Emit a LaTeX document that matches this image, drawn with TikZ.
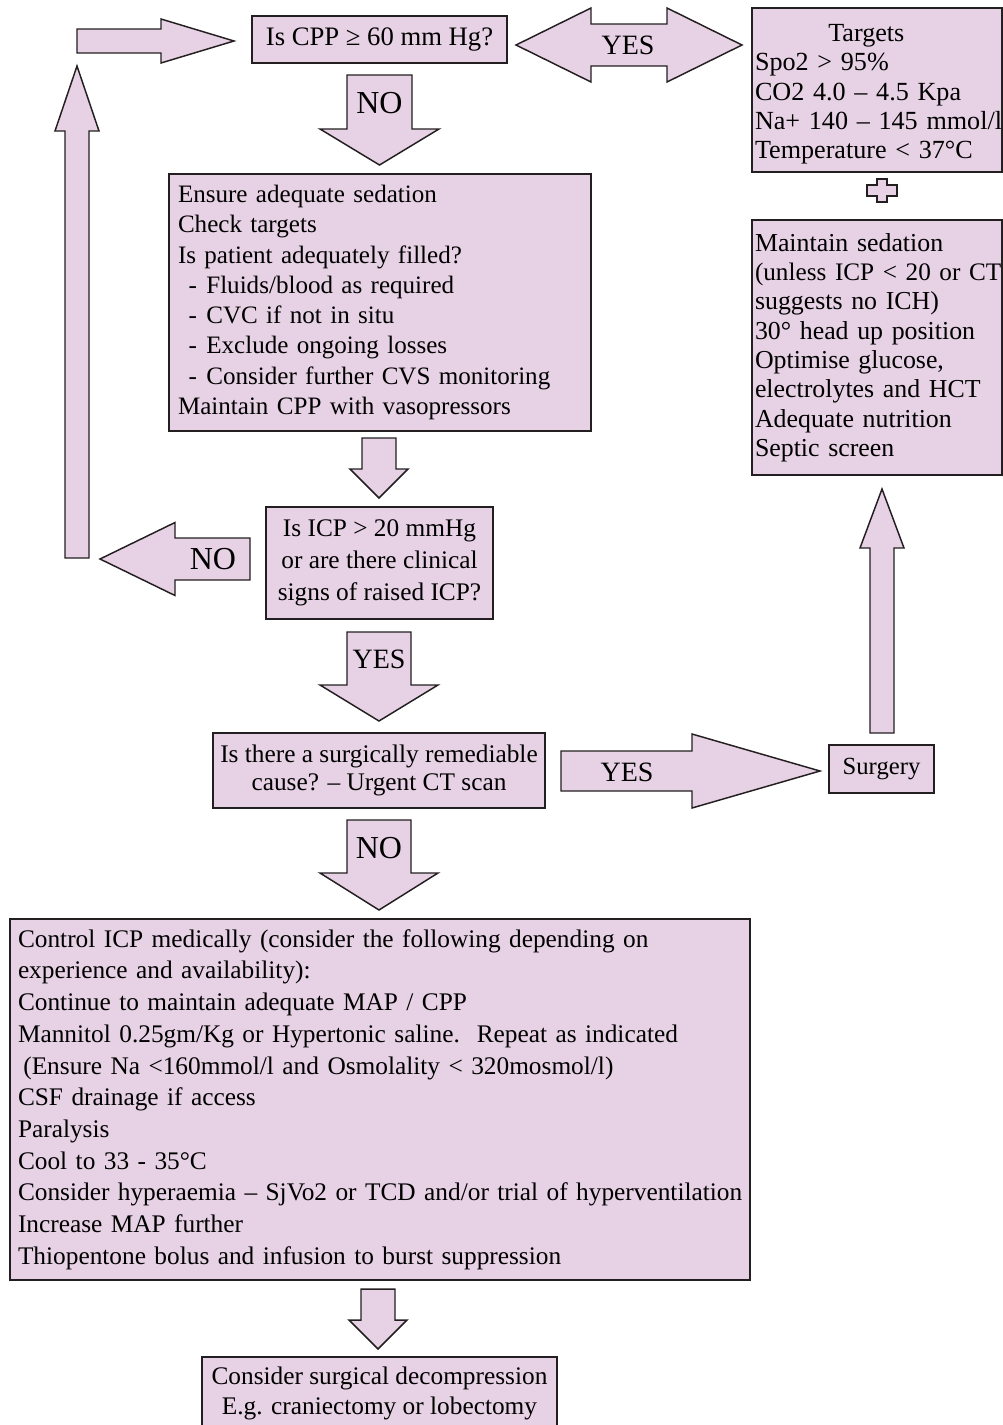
\documentclass[tikz,border=0pt]{standalone}
\usepackage{fontspec}
\setmainfont{Liberation Serif}
\definecolor{boxfill}{RGB}{231,209,228}
\definecolor{edge}{RGB}{35,31,32}
\newcommand\VBlk[6]{% cx, ytail, yhb, ytip, shaft half, head half
  \draw[blk] ({#1-#5},#2) -- ({#1+#5},#2) -- ({#1+#5},#3) -- ({#1+#6},#3) -- (#1,#4) -- ({#1-#6},#3) -- ({#1-#5},#3) -- cycle;}
\newcommand\HBlk[6]{% cy, xtail, xhb, xtip, shaft half, head half
  \draw[blk] (#2,{#1-#5}) -- (#3,{#1-#5}) -- (#3,{#1-#6}) -- (#4,#1) -- (#3,{#1+#6}) -- (#3,{#1+#5}) -- (#2,{#1+#5}) -- cycle;}
\begin{document}
\begin{tikzpicture}[x=0.75pt,y=-0.75pt,
  bx/.style={draw=edge, fill=boxfill, line width=1.1pt, inner ysep=0pt, outer sep=0pt, anchor=center, text=black},
  blk/.style={draw=edge, fill=boxfill, line width=1.1pt, line join=miter},
  lblyes/.style={font=\fontsize{21}{21}\selectfont, inner sep=0pt},
  lblno/.style={font=\fontsize{24}{24}\selectfont, inner sep=0pt}]
\useasboundingbox (0,0) rectangle (1003,1425);

% block arrows
\HBlk{41}{77}{161}{234}{12}{22}
\draw[blk] (516,45) -- (591,8) -- (591,24) -- (667,24) -- (667,8) -- (742,45) -- (667,82) -- (667,66) -- (591,66) -- (591,82) -- cycle;
\VBlk{379.5}{75}{129}{165}{32.5}{59.5}
\VBlk{379}{438}{469}{498}{17}{29}
\HBlk{559}{250}{175}{100}{21}{36.5}
\VBlk{77}{558}{131}{66}{12}{22}
\VBlk{379}{632}{685}{721}{32}{59}
\HBlk{771}{561}{692}{820}{20}{37}
\VBlk{379}{820}{873}{910}{32}{59}
\VBlk{882}{733}{548}{489}{12}{22}
\VBlk{378}{1289}{1320}{1349}{17}{29}
% plus sign
\draw[blk] (877,179) -- (887,179) -- (887,185) -- (897,185) -- (897,196) -- (887,196) -- (887,202) -- (877,202) -- (877,196) -- (867,196) -- (867,185) -- (877,185) -- cycle;

% boxes
\node[bx, minimum width=191.25pt, minimum height=35.25pt, inner xsep=0pt,
  font=\fontsize{20}{22}\selectfont] (cpp) at (379.5,39.5) {Is CPP ≥ 60 mm Hg?};

\node[bx, minimum width=187.5pt, minimum height=123pt, inner xsep=2.25pt, text width=183pt, align=left,
  font=\fontsize{19.6}{21.9}\selectfont] (targets) at (877,90)
  {\rule{0pt}{19.3pt}\hspace*{-8pt}\makebox[\linewidth][c]{Targets}\\\mbox{Spo2 > 95\%}\\\mbox{CO2 4.0 – 4.5 Kpa}\\\mbox{Na+ 140 – 145 mmol/l}\\\mbox{Temperature < 37°C}};

\node[bx, minimum width=187.5pt, minimum height=191.25pt, inner xsep=2.25pt, text width=183pt, align=left,
  font=\fontsize{19.4}{22}\selectfont] (maintain) at (877,347.5)
  {Maintain sedation\\\mbox{\fontsize{18.9}{22}\selectfont(unless ICP < 20 or CT}\\suggests no ICH)\\30° head up position\\Optimise glucose,\\\mbox{electrolytes and HCT}\\Adequate nutrition\\Septic screen};

\node[bx, minimum width=316.5pt, minimum height=192.75pt, inner xsep=6.75pt, text width=303pt, align=left,
  font=\fontsize{18.8}{22.7}\selectfont] (ensure) at (380,302.5)
  {Ensure adequate sedation\\Check targets\\Is patient adequately filled?\\
   \hspace*{8pt}-\hspace{7pt}Fluids/blood as required\\\hspace*{8pt}-\hspace{7pt}CVC if not in situ\\\hspace*{8pt}-\hspace{7pt}Exclude ongoing losses\\
   \mbox{\hspace*{8pt}-\hspace{7pt}Consider further CVS monitoring}\\Maintain CPP with vasopressors};

\node[bx, minimum width=170.25pt, minimum height=84pt, inner xsep=0pt, align=center,
  font=\fontsize{19}{24}\selectfont] (icp) at (379.5,563)
  {Is ICP > 20 mmHg\\or are there clinical\\signs of raised ICP?};

\node[bx, minimum width=249pt, minimum height=56.25pt, inner xsep=0pt, align=center,
  font=\fontsize{19}{21}\selectfont] (remed) at (379,770.5)
  {Is there a surgically remediable\\cause? – Urgent CT scan};

\node[bx, minimum width=78.75pt, minimum height=36pt, inner xsep=0pt,
  font=\fontsize{18.5}{20}\selectfont] (surgery) at (881.5,769) {Surgery};

\node[bx, minimum width=555pt, minimum height=270.75pt, inner xsep=6pt, text width=543pt, align=left,
  font=\fontsize{19}{23.8}\selectfont] (medical) at (380,1099.5)
  {\mbox{Control ICP medically (consider the following depending on}\\experience and availability):\\
   Continue to maintain adequate MAP / CPP\\
   \mbox{Mannitol 0.25gm/Kg or Hypertonic saline.\ \ Repeat as indicated}\\
   \mbox{\hspace*{4pt}(Ensure Na <160mmol/l and Osmolality < 320mosmol/l)}\\
   CSF drainage if access\\Paralysis\\Cool to 33 - 35°C\\
   \mbox{Consider hyperaemia – SjVo2 or TCD and/or trial of hyperventilation}\\
   Increase MAP further\\\mbox{Thiopentone bolus and infusion to burst suppression}};

\node[bx, minimum width=266.25pt, minimum height=54pt, inner xsep=0pt, align=center,
  font=\fontsize{19}{22.5}\selectfont] (decomp) at (379.5,1393)
  {Consider surgical decompression\\E.g. craniectomy or lobectomy};

% arrow labels
\node[lblyes] (yes1) at (628,45) {YES};
\node[lblno] (no1) at (379.5,103) {NO};
\node[lblno] (no2) at (213,559) {NO};
\node[lblyes] (yes2) at (379,659) {YES};
\node[lblyes] (yes3) at (627,772) {YES};
\node[lblno] (no3) at (379,848) {NO};
\end{tikzpicture}
\end{document}
